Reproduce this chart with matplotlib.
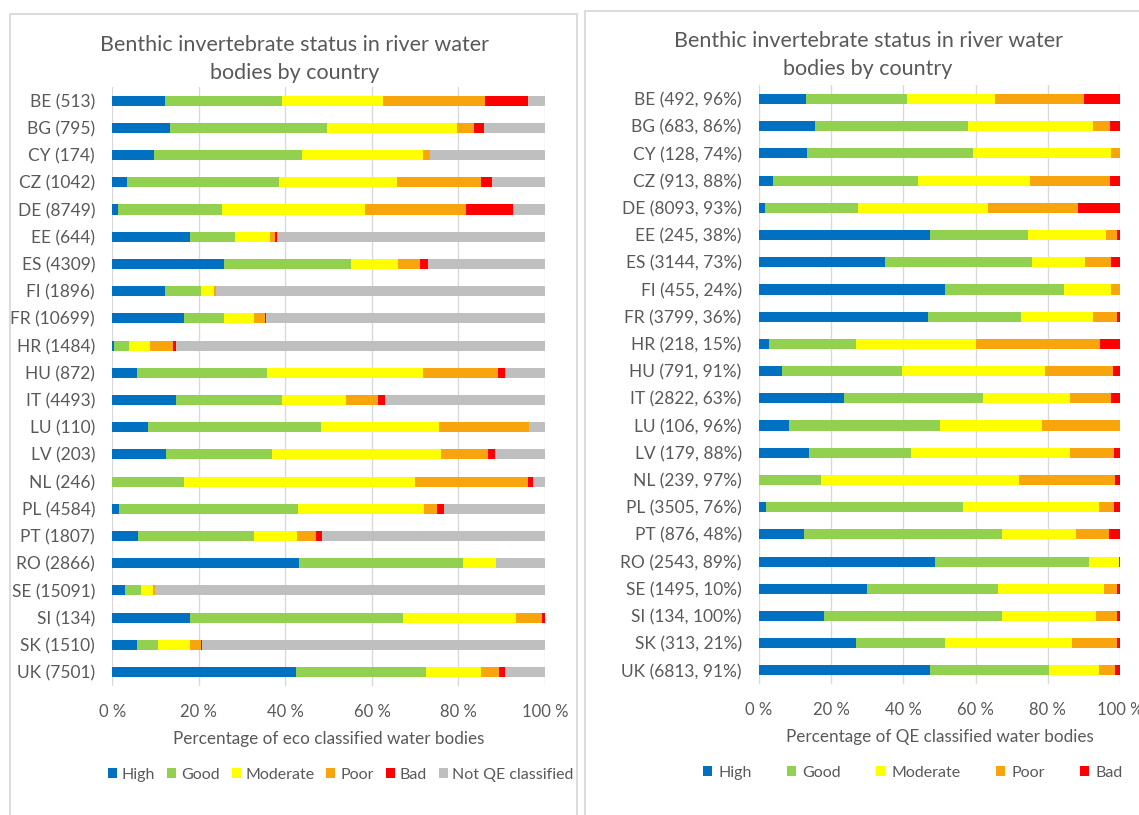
import matplotlib
matplotlib.use('Agg')
import matplotlib.pyplot as plt
from matplotlib.patches import Patch, Rectangle
import numpy as np

plt.rcParams['font.family'] = ['Lato', 'DejaVu Sans']

countries = ['BE', 'BG', 'CY', 'CZ', 'DE', 'EE', 'ES', 'FI', 'FR', 'HR', 'HU',
             'IT', 'LU', 'LV', 'NL', 'PL', 'PT', 'RO', 'SE', 'SI', 'SK', 'UK']
eco_counts = [513, 795, 174, 1042, 8749, 644, 4309, 1896, 10699, 1484, 872,
              4493, 110, 203, 246, 4584, 1807, 2866, 15091, 134, 1510, 7501]
qe_counts = [492, 683, 128, 913, 8093, 245, 3144, 455, 3799, 218, 791,
             2822, 106, 179, 239, 3505, 876, 2543, 1495, 134, 313, 6813]
qe_share = [96, 86, 74, 88, 93, 38, 73, 24, 36, 15, 91,
            63, 96, 88, 97, 76, 48, 89, 10, 100, 21, 91]

# Left chart: % of eco classified water bodies
high_eco = [12.2, 13.3, 9.7, 3.4, 1.3, 18.0, 25.7, 12.2, 16.6, 0.3, 5.6,
            14.8, 8.3, 12.3, 0.0, 1.5, 6.0, 43.2, 3.0, 18.0, 5.6, 42.5]
good_eco = [26.9, 36.4, 34.1, 35.1, 24.1, 10.4, 29.5, 8.2, 9.2, 3.6, 30.1,
            24.3, 39.9, 24.7, 16.6, 41.5, 26.7, 37.8, 3.5, 49.2, 5.0, 30.1]
mod_eco = [23.5, 29.9, 28.1, 27.4, 33.1, 8.0, 10.8, 3.0, 6.9, 4.9, 36.0,
           15.0, 27.2, 39.0, 53.4, 29.0, 9.9, 7.6, 3.0, 26.1, 7.4, 12.6]
poor_eco = [23.6, 3.9, 1.6, 19.4, 23.2, 1.2, 5.2, 0.5, 2.5, 5.1, 17.4,
            7.2, 20.9, 10.8, 26.0, 3.0, 4.4, 0.0, 0.3, 6.1, 2.5, 4.2]
bad_eco = [9.8, 2.4, 0.0, 2.4, 10.9, 0.4, 1.7, 0.0, 0.4, 0.9, 1.7,
           1.6, 0.0, 1.6, 1.3, 1.6, 1.5, 0.0, 0.0, 0.6, 0.2, 1.4]
notqe_eco = [4.0, 14.1, 26.5, 12.3, 7.4, 62.0, 27.1, 76.1, 64.4, 85.2, 9.2,
             37.1, 3.7, 11.6, 2.7, 23.4, 51.5, 11.4, 90.2, 0.0, 79.3, 9.2]

# Right chart: % of QE classified water bodies
high_qe = [12.9, 15.5, 13.2, 3.9, 1.6, 47.4, 35.0, 51.4, 46.7, 2.9, 6.3,
           23.6, 8.4, 13.9, 0.0, 2.0, 12.4, 48.8, 30.0, 18.0, 26.9, 47.3]
good_qe = [28.0, 42.5, 46.1, 40.2, 25.8, 27.2, 40.6, 33.2, 25.9, 23.9, 33.2,
           38.5, 41.7, 28.1, 17.3, 54.4, 55.0, 42.5, 36.1, 49.2, 24.6, 32.9]
mod_qe = [24.4, 34.6, 38.3, 31.1, 36.0, 21.4, 14.8, 13.0, 19.8, 33.3, 39.6,
          24.1, 28.2, 44.2, 54.7, 37.8, 20.5, 8.5, 29.5, 26.1, 35.1, 14.1]
poor_qe = [24.7, 4.5, 2.4, 22.1, 25.0, 3.1, 7.2, 2.4, 6.7, 34.3, 18.9,
           11.4, 21.7, 12.0, 26.7, 4.0, 9.0, 0.0, 3.7, 5.8, 12.5, 4.3]
bad_qe = [10.0, 2.9, 0.0, 2.7, 11.6, 0.9, 2.4, 0.0, 0.9, 5.6, 2.0,
          2.4, 0.0, 1.8, 1.3, 1.8, 3.1, 0.2, 0.7, 0.9, 0.9, 1.4]

status_names = ['High', 'Good', 'Moderate', 'Poor', 'Bad', 'Not QE classified']
colors = ['#0070C0', '#92D050', '#FFFF00', '#F8A40C', '#FF0000', '#BFBFBF']
xtick_vals = [0, 20, 40, 60, 80, 100]
xtick_labels = ['0 %', '20 %', '40 %', '60 %', '80 %', '100 %']

TXT = '#595959'
W, H = 1139, 815
fig = plt.figure(figsize=(W / 100, H / 100), dpi=100)
fig.patch.set_facecolor('white')


def fx(px):
    return px / W


def fy(py):
    return 1 - py / H


# panel borders
fig.patches.append(Rectangle((fx(10), -0.1), fx(577 - 10), fy(14) + 0.1,
                             transform=fig.transFigure, fill=False,
                             edgecolor='#D9D9D9', lw=1.3))
fig.patches.append(Rectangle((fx(585), -0.1), 0.6, fy(11) + 0.1,
                             transform=fig.transFigure, fill=False,
                             edgecolor='#D9D9D9', lw=1.3))


def draw(ax, series, labels, xlabel):
    y = np.arange(len(labels))
    left = np.zeros(len(labels))
    for vals, c in zip(series, colors):
        v = np.array(vals)
        ax.barh(y, v, left=left, height=0.37, color=c, edgecolor='none', zorder=3)
        left += v
    ax.set_ylim(len(labels) - 0.5, -0.5)
    ax.set_xlim(0, 100)
    ax.set_yticks(y)
    ax.set_yticklabels(labels)
    ax.set_xticks(xtick_vals)
    ax.set_xticklabels(xtick_labels)
    ax.tick_params(axis='y', length=0, pad=12.5, labelsize=12.5, labelcolor=TXT)
    ax.tick_params(axis='x', length=0, pad=13, labelsize=12, labelcolor=TXT)
    ax.grid(axis='x', color='#D9D9D9', lw=1.0, zorder=0)
    for s in ax.spines.values():
        s.set_visible(False)
    ax.set_xlabel(xlabel, fontsize=12.3, color=TXT, labelpad=8)


# Left chart
axL = fig.add_axes([fx(112.4), fy(685.6), fx(545 - 112.4), (685.6 - 87.1) / H])
labels_L = [f'{c} ({n})' for c, n in zip(countries, eco_counts)]
draw(axL, [high_eco, good_eco, mod_eco, poor_eco, bad_eco, notqe_eco], labels_L,
     'Percentage of eco classified water bodies')

# Right chart
axR = fig.add_axes([fx(759), fy(684), fx(1120 - 759), (684 - 85.4) / H])
labels_R = [f'{c} ({n}, {s}%)' for c, n, s in zip(countries, qe_counts, qe_share)]
draw(axR, [high_qe, good_qe, mod_qe, poor_qe, bad_qe], labels_R,
     'Percentage of QE classified water bodies')

# titles
for cx, y1, y2 in [(295, 45, 73), (868, 41, 69)]:
    fig.text(fx(cx), fy(y1), 'Benthic invertebrate status in river water',
             ha='center', va='center', fontsize=15.5, color=TXT)
    fig.text(fx(cx), fy(y2), 'bodies by country',
             ha='center', va='center', fontsize=15.5, color=TXT)

# legends
handles = [Patch(facecolor=c, edgecolor='none', label=n) for c, n in zip(colors, status_names)]
fig.legend(handles=handles, loc='center', bbox_to_anchor=(fx(341), fy(775)),
           ncol=6, frameon=False, fontsize=11.5, labelcolor=TXT,
           handlelength=0.56, handleheight=0.56, handletextpad=0.3,
           columnspacing=0.75, borderpad=0)
fig.legend(handles=handles[:5], loc='center', bbox_to_anchor=(fx(913), fy(773)),
           ncol=5, frameon=False, fontsize=11.5, labelcolor=TXT,
           handlelength=0.56, handleheight=0.56, handletextpad=0.4,
           columnspacing=2.2, borderpad=0)

fig.savefig('out.png', dpi=100)
